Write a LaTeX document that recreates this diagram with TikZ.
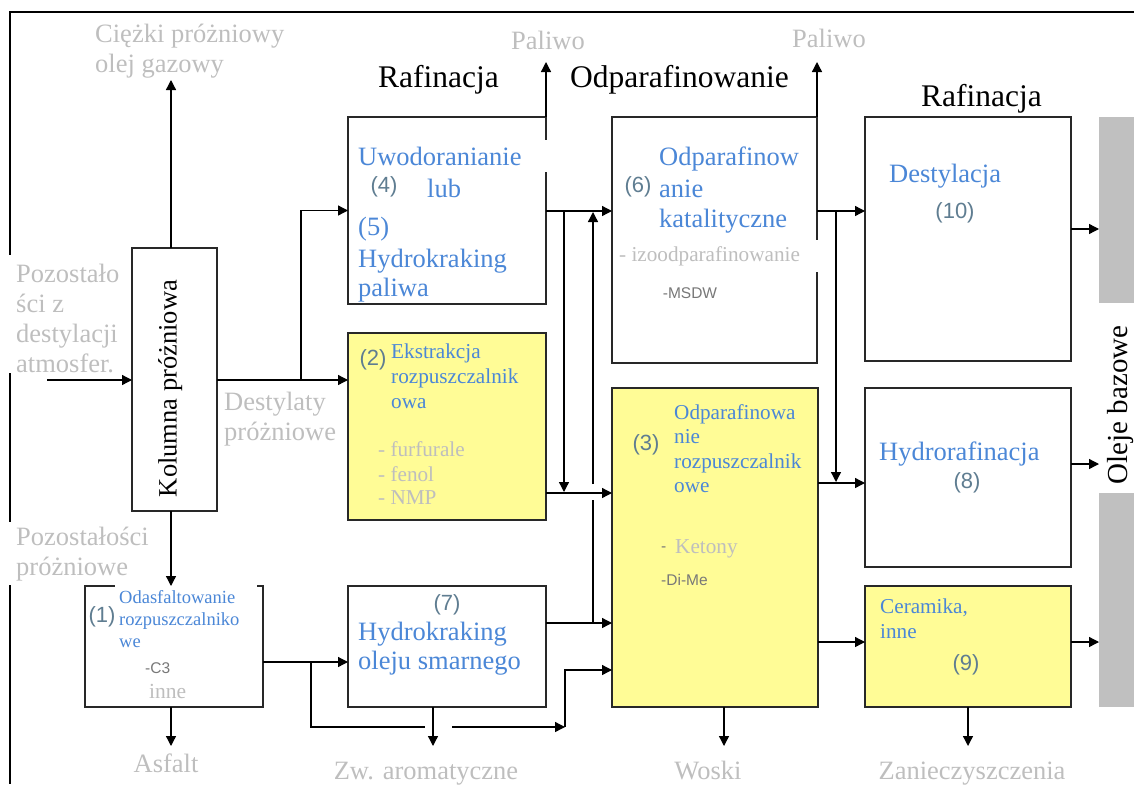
\documentclass[tikz,border=0pt]{standalone}
\usepackage{fontspec}
\setmainfont{Liberation Serif}
\newfontfamily\numfont{Liberation Sans}
\usetikzlibrary{arrows.meta}

\definecolor{bluetxt}{RGB}{75,135,215}
\definecolor{graytxt}{RGB}{190,190,190}
\definecolor{numtxt}{RGB}{95,125,145}
\definecolor{smtxt}{RGB}{120,120,120}
\definecolor{boxyellow}{RGB}{255,252,150}
\definecolor{bargray}{RGB}{192,192,192}
\definecolor{edge}{RGB}{40,40,40}

\begin{document}
\begin{tikzpicture}[x=1pt,y=-1pt,
  proc/.style={draw=edge,line width=1.3pt,inner sep=0pt,outer sep=0pt,fill=white},
  yellowproc/.style={proc,fill=boxyellow},
  conn/.style={draw=black,line width=1.3pt,-{Triangle[length=10pt,width=10pt]}},
  plainline/.style={draw=black,line width=1.3pt},
  frameline/.style={draw=black,line width=1.4pt},
  ttl/.style={inner sep=0pt,anchor=base west,font=\fontsize{31.5}{36}\selectfont},
  lbl/.style={inner sep=0pt,anchor=base west,text=graytxt,font=\fontsize{26.5}{30}\selectfont},
  lblc/.style={lbl,anchor=base},
  lbls/.style={lbl,font=\fontsize{21.2}{25}\selectfont},
  btxt/.style={inner sep=0pt,anchor=base west,text=bluetxt,font=\fontsize{26.5}{30}\selectfont},
  btxts/.style={btxt,font=\fontsize{21.2}{25}\selectfont},
  btxtxs/.style={btxt,font=\fontsize{18.5}{22}\selectfont},
  num/.style={inner sep=0pt,anchor=center,text=numtxt,font=\numfont\fontsize{22}{26}\selectfont},
  smsans/.style={inner sep=0pt,anchor=west,text=smtxt,font=\numfont\fontsize{15.5}{18}\selectfont}
]
\useasboundingbox (0,0) rectangle (1134,784);

% outer frame (broken where the side labels sit)
\draw[frameline] (1134,12) -- (10,12) -- (10,255);
\draw[frameline] (10,373) -- (10,522);
\draw[frameline] (10,585) -- (10,784);

% process blocks
\node[proc,minimum width=85pt,minimum height=263pt] (col) at (174.5,379.5) {};
\node[proc,minimum width=198pt,minimum height=187pt] (b4) at (447,210.5) {};
\node[yellowproc,minimum width=198pt,minimum height=187pt] (b2) at (447,426.5) {};
\node[proc,minimum width=198pt,minimum height=121pt] (b7) at (447,646.5) {};
\node[proc,minimum width=178pt,minimum height=121pt] (b1) at (174,646.5) {};
\node[proc,minimum width=205pt,minimum height=246pt] (b6) at (714.5,240) {};
\node[yellowproc,minimum width=206pt,minimum height=319pt] (b3) at (715,547.5) {};
\node[proc,minimum width=206pt,minimum height=244pt] (b10) at (968,239) {};
\node[proc,minimum width=206pt,minimum height=179pt] (b8) at (968,477.5) {};
\node[yellowproc,minimum width=206pt,minimum height=121pt] (b9) at (968,646.5) {};

% base oils bar
\node[fill=bargray,inner sep=0pt,outer sep=0pt,minimum width=61pt,minimum height=590pt] (bar) at (1129.5,412) {};
\fill[white] (1099,303) rectangle (1165,493);
\node[rotate=90,anchor=base,inner sep=0pt,font=\fontsize{29}{34}\selectfont] (barTxt) at (1127,405) {Oleje bazowe};

% white text backgrounds cutting the block edges
\fill[white] (540,140) rectangle (552,172);
\fill[white] (811,240) rectangle (823,272);
\fill[white] (115,580) rectangle (257,653);

% column label
\node[rotate=90,anchor=base,inner sep=0pt,font=\fontsize{26.5}{30}\selectfont] (colTxt) at (176.5,388.5) {Kolumna próżniowa};

% connectors
\coordinate (feed) at (47,380);
\draw[conn] (feed) -- (feed -| col.west);
\coordinate (hvgo) at (171,80);
\draw[conn] (col.north -| hvgo) -- (hvgo);
\draw[conn] (col.east |- feed) -- (feed -| b2.west);
\coordinate (j1) at (301,380);
\draw[conn] (j1) |- (b4.west);
\draw[conn] (col.south -| hvgo) -- (b1.north -| hvgo);
\coordinate (asf) at (171,746);
\draw[conn] (b1.south -| asf) -- (asf);

\coordinate (y662) at (0,662);
\draw[conn] (b1.east |- y662) -- (b7.west |- y662);
\coordinate (j2) at (311,662);
\coordinate (g1) at (425,727);
\coordinate (g2) at (452,727);
\coordinate (j3) at (565,727);
\draw[plainline] (j2) |- (g1);
\draw[conn] (g2) -- (j3);
\coordinate (y670) at (0,670);
\draw[conn] (j3) |- (b3.west |- y670);
\coordinate (zw) at (433,746);
\draw[conn] (b7.south -| zw) -- (zw);

\coordinate (y623) at (0,623);
\draw[conn] (b7.east |- y623) -- (b3.west |- y623);
\coordinate (k1) at (593,623);
\coordinate (k2) at (593,500);
\coordinate (k3) at (593,484);
\coordinate (k4) at (593,212);
\draw[plainline] (k1) -- (k2);
\draw[conn] (k3) -- (k4);

\coordinate (y211) at (0,211);
\draw[conn] (b4.east |- y211) -- (b6.west |- y211);
\coordinate (m1) at (564,211);
\coordinate (m2) at (564,492);
\draw[conn] (m1) -- (m2);
\coordinate (y493) at (0,493);
\draw[conn] (b2.east |- y493) -- (b3.west |- y493);

\coordinate (pal1) at (546,62);
\draw[conn] (b4.north east) -- (pal1);
\coordinate (pal2) at (817,62);
\draw[conn] (b6.north east) -- (pal2);

\draw[conn] (b6.east |- y211) -- (b10.west |- y211);
\coordinate (n1) at (836,211);
\coordinate (n2) at (836,482);
\draw[conn] (n1) -- (n2);
\coordinate (y483) at (0,483);
\draw[conn] (b3.east |- y483) -- (b8.west |- y483);
\coordinate (y642) at (0,642);
\draw[conn] (b3.east |- y642) -- (b9.west |- y642);
\coordinate (wos) at (724,746);
\draw[conn] (b3.south -| wos) -- (wos);
\coordinate (zan) at (968,746);
\draw[conn] (b9.south -| zan) -- (zan);

\coordinate (y229) at (0,229);
\coordinate (y464) at (0,464);
\draw[conn] (b10.east |- y229) -- (bar.west |- y229);
\draw[conn] (b8.east |- y464) -- (bar.west |- y464);
\draw[conn] (b9.east |- y642) -- (bar.west |- y642);

% section titles
\node[ttl] (tRaf1) at (378,87) {Rafinacja};
\node[ttl] (tOdp) at (570,87) {Odparafinowanie};
\node[ttl] (tRaf2) at (921,106) {Rafinacja};

% stream labels
\node[lbl] (lHv1) at (95,42) {Ciężki próżniowy};
\node[lbl] (lHv2) at (95,72) {olej gazowy};
\node[lbl] (lPal1) at (511,50) {Paliwo};
\node[lbl] (lPal2) at (792,48) {Paliwo};
\node[lbl] (lAt1) at (16,282) {Pozostało};
\node[lbl] (lAt2) at (16,312) {ści z};
\node[lbl] (lAt3) at (16,342) {destylacji};
\node[lbl] (lAt4) at (16,372) {atmosfer.};
\node[lbl] (lDs1) at (224,410) {Destylaty};
\node[lbl] (lDs2) at (224,440) {próżniowe};
\node[lbl] (lRs1) at (16,545) {Pozostałości};
\node[lbl] (lRs2) at (16,575) {próżniowe};
\node[lblc] (lAsf) at (166,772) {Asfalt};
\node[lblc] (lZw) at (426,779) {Zw. aromatyczne};
\node[lblc] (lWos) at (708,779) {Woski};
\node[lblc] (lZan) at (972,779) {Zanieczyszczenia};

% block 4/5
\node[btxt] (t4a) at (358,165) {Uwodoranianie};
\node[num] (n4) at (384,187) {(4)};
\node[btxt] (t4b) at (427,197) {lub};
\node[btxt] (t5a) at (358,235) {(5)};
\node[btxt] (t5b) at (358,267) {Hydrokraking};
\node[btxt] (t5c) at (358,296) {paliwa};

% block 6
\node[num] (n6) at (638,187) {(6)};
\node[btxt] (t6a) at (659,165) {Odparafinow};
\node[btxt] (t6b) at (659,197) {anie};
\node[btxt] (t6c) at (659,227) {katalityczne};
\node[lbls] (t6d) at (619,261) {- izoodparafinowanie};
\node[smsans,anchor=center] (t6e) at (690,293) {-MSDW};

% block 10
\node[btxt] (t10) at (889,182) {Destylacja};
\node[num] (n10) at (955,213) {(10)};

% block 2
\node[num] (n2l) at (373,360) {(2)};
\node[btxts] (t2a) at (391,358) {Ekstrakcja};
\node[btxts] (t2b) at (391,383) {rozpuszczalnik};
\node[btxts] (t2c) at (391,408) {owa};
\node[lbls] (t2d) at (378,456) {- furfurale};
\node[lbls] (t2e) at (378,481) {- fenol};
\node[lbls] (t2f) at (378,504) {- NMP};

% block 3
\node[num] (n3) at (646,445) {(3)};
\node[btxts] (t3a) at (674,419) {Odparafinowa};
\node[btxts] (t3b) at (674,443) {nie};
\node[btxts] (t3c) at (674,468) {rozpuszczalnik};
\node[btxts] (t3d) at (674,492) {owe};
\node[smsans] (t3e) at (661,549) {-};
\node[lbls] (t3f) at (675,553) {Ketony};
\node[smsans] (t3g) at (661,580) {-Di-Me};

% block 8
\node[btxt] (t8) at (879,460) {Hydrorafinacja};
\node[num] (n8) at (967,483) {(8)};

% block 9
\node[btxts] (t9a) at (880,613) {Ceramika,};
\node[btxts] (t9b) at (880,638) {inne};
\node[num] (n9) at (966,665) {(9)};

% block 7
\node[num] (n7) at (447,605) {(7)};
\node[btxt] (t7a) at (358,640) {Hydrokraking};
\node[btxt] (t7b) at (358,669) {oleju smarnego};

% block 1
\node[num] (n1l) at (102,617) {(1)};
\node[btxtxs] (t1a) at (119,603) {Odasfaltowanie};
\node[btxtxs] (t1b) at (119,625) {rozpuszczalniko};
\node[btxtxs] (t1c) at (119,647) {we};
\node[smsans] (t1d) at (145,668) {-C3};
\node[lbls,font=\fontsize{21.5}{25}\selectfont] (t1e) at (149,698) {inne};

\end{tikzpicture}
\end{document}
